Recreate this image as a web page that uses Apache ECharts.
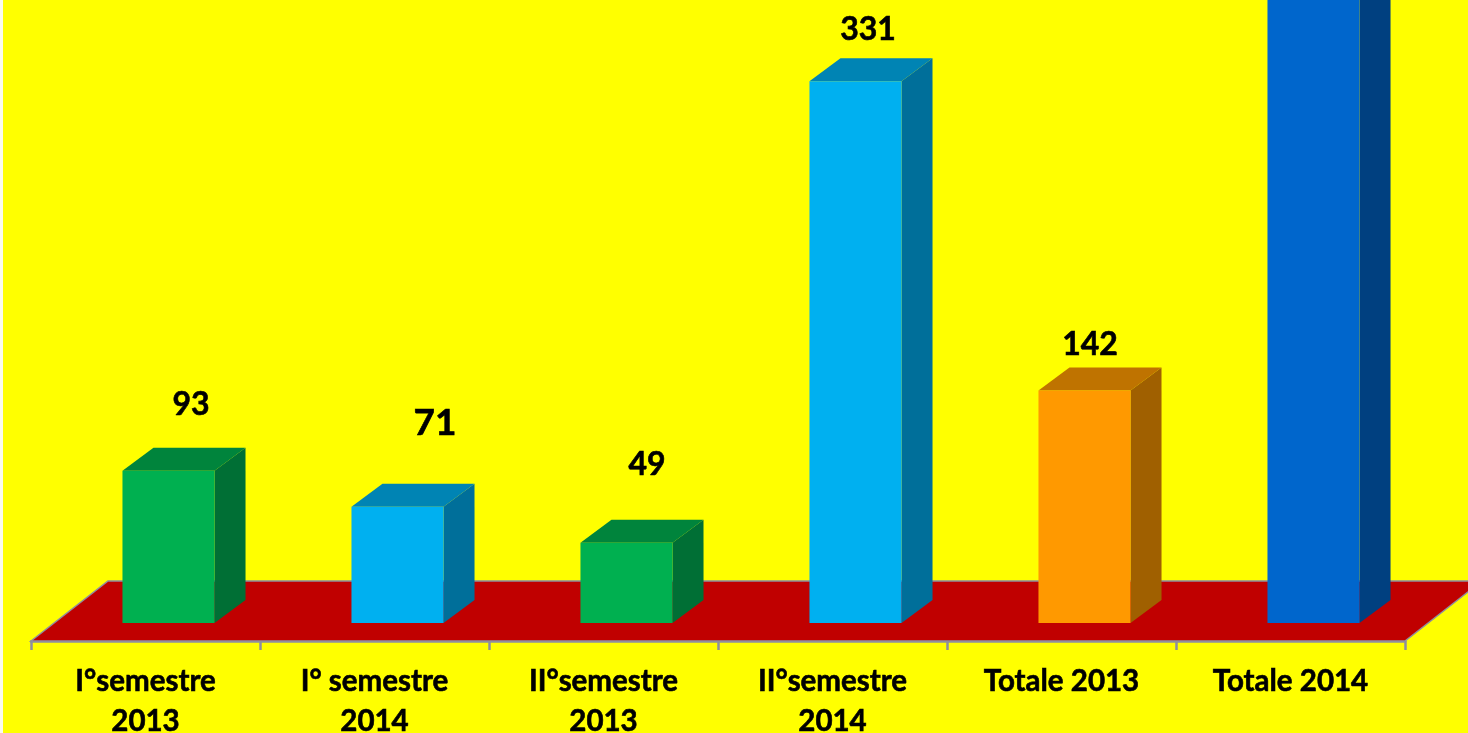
<!DOCTYPE html>
<html>
<head>
<meta charset="utf-8">
<style>html,body{margin:0;padding:0;background:#fbfbee;overflow:hidden}#c{position:absolute;left:3px;top:0;width:1465px;height:733px}</style>
<script src="https://cdn.jsdelivr.net/npm/echarts@6/dist/echarts.min.js"></script>
</head>
<body>
<div id="c"></div>
<script>
const categories = ['I°semestre\n2013', 'I° semestre\n2014', 'II°semestre\n2013', 'II°semestre\n2014', 'Totale 2013', 'Totale 2014'];
const values = [93, 71, 49, 331, 142, 402];

const frontColors = ['#00B050', '#00B0F0', '#00B050', '#00B0F0', '#FF9900', '#0066CC'];
const topColors = ['#00843C', '#0084B4', '#00843C', '#0084B4', '#BF7300', '#004D99'];
const sideColors = ['#006F35', '#006F9A', '#006F35', '#006F9A', '#A06000', '#004080'];
const labelShiftX = [23, 38, 21, 13, 6, 0];
const labelShiftY = [66, 84, 78, 51, 46, 46];
const labelSizes = [32, 37, 32, 32, 32, 32];

const FONT = 'Lato, "Open Sans", sans-serif';
const FLOOR_DX = 77, FLOOR_DY = 60;
const BAR_DX = 23, BAR_DY = 18, BAR_W = 0.402, SIDE_DX = 31, SIDE_DY = 23;

const chart = echarts.init(document.getElementById('c'), null, {renderer: 'canvas'});

function renderFloor(params, api) {
  const cs = params.coordSys;
  const x0 = cs.x, x1 = cs.x + cs.width, y0 = api.coord([0, 0])[1];
  return {
    type: 'polygon',
    shape: {points: [[x0, y0], [x0 + FLOOR_DX, y0 - FLOOR_DY], [x1 + FLOOR_DX, y0 - FLOOR_DY], [x1, y0]]},
    style: {fill: '#C00000', stroke: '#8E8E9E', lineWidth: 1.5}
  };
}

function renderBar(params, api) {
  const i = api.value(0), v = api.value(1);
  const base = api.coord([i, 0]);
  const band = api.size([1, 0])[0];
  const h = api.size([0, v])[1];
  const w = band * BAR_W;
  const xl = base[0] + BAR_DX - w / 2, xr = xl + w;
  const yb = base[1] - BAR_DY, yt = yb - h;
  const children = [
    {type: 'polygon', shape: {points: [[xr, yb], [xr + SIDE_DX, yb - SIDE_DY], [xr + SIDE_DX, yt - SIDE_DY], [xr, yt]]},
      style: {fill: sideColors[i]}},
    {type: 'polygon', shape: {points: [[xl, yt], [xl + SIDE_DX, yt - SIDE_DY], [xr + SIDE_DX, yt - SIDE_DY], [xr, yt]]},
      style: {fill: topColors[i]}},
    {type: 'rect', shape: {x: xl, y: yt, width: w, height: h}, style: {fill: frontColors[i]}},
    {type: 'text', x: (xl + xr) / 2 + labelShiftX[i] - 0.5, y: yt - labelShiftY[i],
      style: {text: String(v), fill: '#000', stroke: '#000', lineWidth: 0.6, font: 'bold ' + labelSizes[i] + 'px ' + FONT, textAlign: 'center', textVerticalAlign: 'middle'}}
  ];
  return {type: 'group', children};
}

chart.setOption({
  animation: false,
  backgroundColor: '#FFFF00',
  grid: {left: 28, width: 1374, top: -95.65, height: 736.65, outerBoundsMode: 'none', containLabel: false},
  xAxis: {
    type: 'category', data: categories,
    axisLine: {show: true, lineStyle: {color: '#8E8E9E', width: 2.5}},
    axisTick: {show: true, length: 9, lineStyle: {color: '#8E8E9E', width: 2.5}},
    axisLabel: {interval: 0, color: '#000', fontFamily: FONT, fontWeight: 'bold', fontSize: 29.5, lineHeight: 40, margin: 20, verticalAlign: 'top', hideOverlap: false, textBorderColor: '#000', textBorderWidth: 0.6}
  },
  yAxis: {type: 'value', min: 0, max: 450, show: false, splitLine: {show: false}},
  series: [
    {type: 'custom', z: 1, renderItem: renderFloor, data: [[0, 0]], encode: {x: 0, y: 1}, silent: true},
    {type: 'custom', z: 3, renderItem: renderBar, data: values.map((v, i) => [i, v]), encode: {x: 0, y: 1}}
  ]
});
</script>
</body>
</html>
